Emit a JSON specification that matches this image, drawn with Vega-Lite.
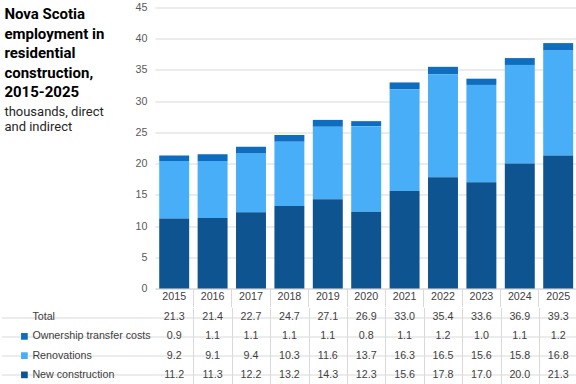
{
  "$schema": "https://vega.github.io/schema/vega-lite/v6.json",
  "padding": {"left": 0, "top": 1.5, "right": 0, "bottom": 0},
  "background": "white",
  "spacing": 0,
  "config": {
    "view": {"stroke": null},
    "axis": {"labelFont": "Liberation Sans", "titleFont": "Liberation Sans"},
    "text": {"font": "Liberation Sans"}
  },
  "datasets": {
    "d": [
      {"year": 2015, "series": "Total", "value": 21.3},
      {"year": 2015, "series": "Ownership transfer costs", "value": 0.9},
      {"year": 2015, "series": "Renovations", "value": 9.2},
      {"year": 2015, "series": "New construction", "value": 11.2},
      {"year": 2016, "series": "Total", "value": 21.4},
      {"year": 2016, "series": "Ownership transfer costs", "value": 1.1},
      {"year": 2016, "series": "Renovations", "value": 9.1},
      {"year": 2016, "series": "New construction", "value": 11.3},
      {"year": 2017, "series": "Total", "value": 22.7},
      {"year": 2017, "series": "Ownership transfer costs", "value": 1.1},
      {"year": 2017, "series": "Renovations", "value": 9.4},
      {"year": 2017, "series": "New construction", "value": 12.2},
      {"year": 2018, "series": "Total", "value": 24.7},
      {"year": 2018, "series": "Ownership transfer costs", "value": 1.1},
      {"year": 2018, "series": "Renovations", "value": 10.3},
      {"year": 2018, "series": "New construction", "value": 13.2},
      {"year": 2019, "series": "Total", "value": 27.1},
      {"year": 2019, "series": "Ownership transfer costs", "value": 1.1},
      {"year": 2019, "series": "Renovations", "value": 11.6},
      {"year": 2019, "series": "New construction", "value": 14.3},
      {"year": 2020, "series": "Total", "value": 26.9},
      {"year": 2020, "series": "Ownership transfer costs", "value": 0.8},
      {"year": 2020, "series": "Renovations", "value": 13.7},
      {"year": 2020, "series": "New construction", "value": 12.3},
      {"year": 2021, "series": "Total", "value": 33.0},
      {"year": 2021, "series": "Ownership transfer costs", "value": 1.1},
      {"year": 2021, "series": "Renovations", "value": 16.3},
      {"year": 2021, "series": "New construction", "value": 15.6},
      {"year": 2022, "series": "Total", "value": 35.4},
      {"year": 2022, "series": "Ownership transfer costs", "value": 1.2},
      {"year": 2022, "series": "Renovations", "value": 16.5},
      {"year": 2022, "series": "New construction", "value": 17.8},
      {"year": 2023, "series": "Total", "value": 33.6},
      {"year": 2023, "series": "Ownership transfer costs", "value": 1.0},
      {"year": 2023, "series": "Renovations", "value": 15.6},
      {"year": 2023, "series": "New construction", "value": 17.0},
      {"year": 2024, "series": "Total", "value": 36.9},
      {"year": 2024, "series": "Ownership transfer costs", "value": 1.1},
      {"year": 2024, "series": "Renovations", "value": 15.8},
      {"year": 2024, "series": "New construction", "value": 20.0},
      {"year": 2025, "series": "Total", "value": 39.3},
      {"year": 2025, "series": "Ownership transfer costs", "value": 1.2},
      {"year": 2025, "series": "Renovations", "value": 16.8},
      {"year": 2025, "series": "New construction", "value": 21.3}
    ]
  },
  "vconcat": [
    {
      "width": 422.4,
      "height": 281,
      "data": {"name": "d"},
      "transform": [
        {"filter": "datum.series !== 'Total'"},
        {"calculate": "indexof(['New construction', 'Renovations', 'Ownership transfer costs'], datum.series)", "as": "stackOrder"}
      ],
      "title": {
        "text": ["Nova Scotia", "employment in", "residential", "construction,", "2015-2025"],
        "subtitle": ["thousands, direct", "and indirect"],
        "anchor": "start",
        "frame": "group",
        "orient": "top",
        "align": "left",
        "baseline": "top",
        "offset": 0,
        "dx": -150.6,
        "dy": 133,
        "font": "Roboto",
        "fontSize": 15,
        "fontWeight": "bold",
        "color": "#000000",
        "lineHeight": 19.4,
        "subtitleFont": "Roboto",
        "subtitleFontSize": 13,
        "subtitleColor": "#262626",
        "subtitleLineHeight": 15.5,
        "subtitlePadding": 6
      },
      "mark": {"type": "bar", "width": {"band": 0.78}},
      "encoding": {
        "x": {
          "field": "year",
          "type": "ordinal",
          "scale": {"paddingInner": 0, "paddingOuter": 0},
          "axis": {
            "title": null,
            "bandPosition": 1,
            "grid": false,
            "domainColor": "#d9d9d9",
            "tickColor": "#d9d9d9",
            "tickSize": 18,
            "labelPadding": -15,
            "labelAngle": 0,
            "labelFontSize": 10.7,
            "labelColor": "#404040"
          }
        },
        "y": {
          "field": "value",
          "type": "quantitative",
          "stack": "zero",
          "scale": {"domain": [0, 45], "nice": false},
          "axis": {
            "title": null,
            "values": [0, 5, 10, 15, 20, 25, 30, 35, 40, 45],
            "domain": false,
            "ticks": false,
            "gridColor": "#d9d9d9",
            "labelPadding": 8,
            "labelColor": "#595959",
            "labelFontSize": 10.7
          }
        },
        "order": {"field": "stackOrder", "type": "quantitative", "sort": "ascending"},
        "color": {
          "field": "series",
          "type": "nominal",
          "scale": {
            "domain": ["New construction", "Renovations", "Ownership transfer costs"],
            "range": ["#0E5491", "#47AEF7", "#0F6DBF"]
          },
          "legend": null
        }
      }
    },
    {
      "width": 422.4,
      "height": 77,
      "data": {"name": "d"},
      "encoding": {
        "y": {
          "field": "series",
          "type": "nominal",
          "scale": {
            "domain": ["Total", "Ownership transfer costs", "Renovations", "New construction"],
            "paddingInner": 0,
            "paddingOuter": 0
          },
          "axis": {
            "title": null,
            "labels": false,
            "ticks": true,
            "tickSize": 153.6,
            "tickColor": "#d9d9d9",
            "domain": false,
            "grid": true,
            "bandPosition": 1,
            "gridColor": "#d9d9d9"
          }
        }
      },
      "layer": [
        {
          "mark": {"type": "text", "fontSize": 10.7, "color": "#404040"},
          "encoding": {
            "x": {
              "field": "year",
              "type": "quantitative",
              "scale": {"domain": [2014.5, 2025.5], "nice": false, "zero": false},
              "axis": {
                "title": null,
                "grid": true,
                "values": [2015.5, 2016.5, 2017.5, 2018.5, 2019.5, 2020.5, 2021.5, 2022.5, 2023.5, 2024.5, 2025.5],
                "labels": false,
                "ticks": false,
                "domain": false,
                "gridColor": "#d9d9d9"
              }
            },
            "text": {"field": "value", "type": "quantitative", "format": ".1f"}
          }
        },
        {
          "transform": [{"filter": "datum.year === 2015"}],
          "mark": {"type": "text", "align": "left", "dx": 31, "fontSize": 10.7, "color": "#404040"},
          "encoding": {
            "x": {"datum": 2010.5},
            "text": {"field": "series", "type": "nominal"}
          }
        },
        {
          "transform": [{"filter": "datum.year === 2015 && datum.series !== 'Total'"}],
          "mark": {"type": "square", "size": 45, "xOffset": 23, "opacity": 1},
          "encoding": {
            "x": {"datum": 2010.5},
            "color": {
              "field": "series",
              "type": "nominal",
              "scale": {
                "domain": ["New construction", "Renovations", "Ownership transfer costs"],
                "range": ["#0E5491", "#47AEF7", "#0F6DBF"]
              },
              "legend": null
            }
          }
        }
      ]
    }
  ]
}
